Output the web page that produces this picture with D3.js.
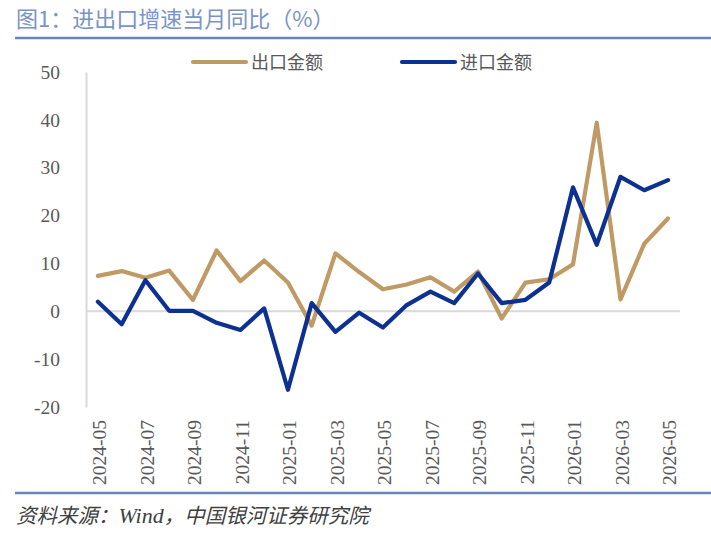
<!DOCTYPE html>
<html><head><meta charset="utf-8">
<script src="https://cdn.jsdelivr.net/npm/d3@7"></script>
<style>body{margin:0;background:#fff;}svg{display:block;}</style>
</head><body>
<svg id="c" width="711" height="536"></svg>
<script>
const months = ["2024-05","2024-06","2024-07","2024-08","2024-09","2024-10","2024-11","2024-12",
"2025-01","2025-02","2025-03","2025-04","2025-05","2025-06","2025-07","2025-08","2025-09","2025-10","2025-11","2025-12",
"2026-01","2026-02","2026-03","2026-04","2026-05"];
const exportVals = [7.4,8.4,7.0,8.5,2.4,12.7,6.3,10.6,6.0,-3.0,12.1,8.2,4.6,5.6,7.1,4.1,8.3,-1.5,6.0,6.7,9.8,39.4,2.5,14.1,19.4];
const importVals = [2.0,-2.7,6.5,0.1,0.1,-2.4,-3.9,0.6,-16.4,1.7,-4.3,-0.3,-3.4,1.3,4.1,1.7,7.9,1.7,2.4,6.0,25.9,13.9,28.1,25.3,27.4];
const yTicks = [-20,-10,0,10,20,30,40,50];
const xTickLabels = months.filter((d,i)=>i%2===0);
const seriesNames = ["出口金额","进口金额"];
const colors = ["#bf9a64","#0c3190"];
const titleText = "图1：进出口增速当月同比（%）";
const sourcePre = "资料来源：";
const sourceWind = "Wind";
const sourcePost = "，中国银河证券研究院";

const svg = d3.select("#c");
const font = "'Noto Sans CJK SC', 'Noto Sans', sans-serif";
const serif = "'Liberation Serif', 'DejaVu Serif', serif";

// title
svg.append("text").attr("x",16).attr("y",27).attr("font-family",font).attr("font-size",22)
  .attr("fill","#7b93c5").text(titleText);
svg.append("line").attr("x1",15).attr("x2",711).attr("y1",38).attr("y2",38)
  .attr("stroke","#6a85ba").attr("stroke-width",2.5);

const x = d3.scalePoint().domain(months).range([97.9, 668]);
const y = d3.scaleLinear().domain([-20,50]).range([407,72]);

// y axis
const yAxis = svg.append("g").attr("transform","translate(86,0)")
  .call(d3.axisLeft(y).tickValues(yTicks).tickSize(0).tickPadding(26).tickFormat(d=>String(d)));
yAxis.select(".domain").attr("stroke","#d9d9d9").attr("stroke-width",2);
yAxis.selectAll("text").attr("font-family",serif).attr("font-size",19.5).attr("fill","#595959");

// zero line
svg.append("line").attr("x1",86).attr("x2",680).attr("y1",y(0)).attr("y2",y(0))
  .attr("stroke","#d9d9d9").attr("stroke-width",2);

// x labels
const xAxis = svg.append("g").attr("transform","translate(0,410)")
  .call(d3.axisBottom(x).tickValues(xTickLabels).tickSize(0).tickPadding(0));
xAxis.select(".domain").remove();
xAxis.selectAll("text").attr("font-family",serif).attr("font-size",19.5).attr("fill","#595959")
  .attr("transform","rotate(-90)").attr("text-anchor","end")
  .attr("x",-10).attr("y",1).attr("dy","0.35em");

// lines
const line = d3.line().x((d,i)=>x(months[i])).y(d=>y(d));
[exportVals, importVals].forEach((vals,k)=>{
  svg.append("path").datum(vals).attr("d",line).attr("fill","none")
    .attr("stroke",colors[k]).attr("stroke-width",4.2).attr("stroke-linejoin","round").attr("stroke-linecap","round");
});

// legend
const legendX = [193, 402];
seriesNames.forEach((n,k)=>{
  svg.append("line").attr("x1",legendX[k]).attr("x2",legendX[k]+53).attr("y1",62).attr("y2",62)
    .attr("stroke",colors[k]).attr("stroke-width",4.2).attr("stroke-linecap","round");
  svg.append("text").attr("x",legendX[k]+58).attr("y",69).attr("font-family",font).attr("font-size",18)
    .attr("fill","#595959").text(n);
});

// footer
svg.append("line").attr("x1",15).attr("x2",711).attr("y1",493).attr("y2",493)
  .attr("stroke","#6a85ba").attr("stroke-width",2.5);
const ft = svg.append("text").attr("x",16).attr("y",523).attr("font-family",font).attr("font-size",20.5)
  .attr("font-style","italic").attr("fill","#404040");
ft.append("tspan").text(sourcePre);
ft.append("tspan").attr("font-family",serif).attr("font-size",22).text(sourceWind);
ft.append("tspan").text(sourcePost);
</script>
</body></html>
